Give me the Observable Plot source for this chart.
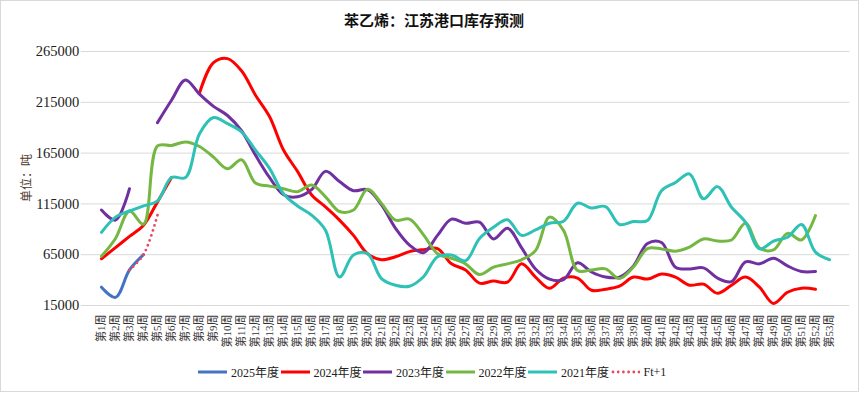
<!DOCTYPE html>
<html>
<head>
<meta charset="utf-8">
<script src="https://cdn.jsdelivr.net/npm/d3@7"></script>
<script src="https://cdn.jsdelivr.net/npm/@observablehq/plot@0.6"></script>
<style>
  html, body { margin: 0; padding: 0; background: #fff; }
  #wrap { position: relative; width: 865px; height: 393px; overflow: hidden; background: #fff; }
  #frame { position: absolute; left: 0; top: 0; width: 859px; height: 392px; border: 1.5px solid #d9d9d9; box-sizing: border-box; pointer-events: none; }
  #title { position: absolute; top: 9px; left: 0; width: 868px; text-align: center; font-family: "Noto Sans CJK SC", sans-serif; font-weight: 700; font-size: 15px; color: #111; line-height: 22px; }
  #ylabel { position: absolute; left: 25px; top: 178px; transform: translate(-50%, -50%) rotate(-90deg); font-family: "Noto Sans CJK SC", sans-serif; font-size: 12px; color: #4d3a2c; white-space: nowrap; }
  #chart { position: absolute; left: 0; top: 0; }
  .leg { position: absolute; top: 364px; height: 16px; display: flex; align-items: center; font-family: "Liberation Serif", "Noto Sans CJK SC", serif; font-size: 12px; color: #222; white-space: nowrap; }
  .leg svg { margin-right: 4px; }
</style>
</head>
<body>
<div id="wrap">
  <div id="chart"></div>
  <div id="title"></div>
  <div id="ylabel"></div>
  <div id="legend"></div>
  <div id="frame"></div>
</div>
<script>
// ---- text ----
const titleText = "苯乙烯：江苏港口库存预测";
const yLabelText = "单位：吨";

// ---- categories ----
const weeks = d3.range(1, 54);
const weekLabels = weeks.map(w => "第" + w + "周");
const yTicks = [15000, 65000, 115000, 165000, 215000, 265000];

// ---- series values (weekly, starting at week 1) ----
const s2025 = [33000, 23000, 50000, 65000];
const s2024 = [61000, 72000, 83000, 94000, 117000, 141000, null, 224000, 254000, 258000,
  246000, 222000, 201000, 168000, 147000, 124000, 112000, 99000, 84000, 66000,
  60000, 63000, 68000, 70000, 71000, 56000, 50000, 37000, 39000, 38000,
  56000, 43000, 32000, 42000, 42000, 30000, 31000, 34000, 43000, 41000,
  46000, 43000, 35000, 36000, 27000, 35000, 43000, 33000, 17000, 28000,
  32000, 31000];
const s2023 = [109000, 99000, 130000, null, 195000, 217000, 237000, 223000, 211000, 202000,
  187000, 163000, 141000, 124000, 122000, 129000, 147000, 137000, 128000, 129000,
  114000, 91000, 74500, 67000, 84000, 100000, 96000, 97000, 80500, 91000,
  72000, 51000, 41000, 40500, 57000, 48000, 43000, 43000, 54000, 76000,
  77000, 52700, 51000, 52000, 42000, 38500, 58000, 56000, 61500, 54000,
  48500, 48500];
const s2022 = [63500, 81000, 108000, 95000, 172000, 172500, 176000, 171500, 161000, 149500,
  158500, 135500, 132500, 130000, 127000, 133500, 122000, 107500, 109000, 129500,
  115500, 99000, 100000, 84500, 66000, 61500, 56000, 45500, 52700, 56000,
  60000, 69000, 102000, 89000, 49500, 50000, 51000, 41500, 53000, 71000,
  70700, 68500, 72500, 80500, 78500, 79500, 96000, 71700, 69700, 86000,
  79500, 103500];
const s2021 = [87000, 102000, 108000, 113000, 118000, 141000, 141000, 184000, 200000, 194000,
  186000, 168000, 150000, 125000, 113000, 104000, 89000, 43000, 64700, 66000,
  41500, 35000, 34000, 43300, 63000, 64700, 59000, 81000, 92000, 99300,
  84000, 89400, 96000, 98000, 115700, 111000, 112400, 94700, 97600, 98600,
  128000, 136000, 144500, 120000, 132000, 111700, 97000, 70700, 78300, 82200,
  94700, 67500, 60000];
const sFt1 = [null, null, 50000, 65000, 104000];

const seriesNames = ["2025年度", "2024年度", "2023年度", "2022年度", "2021年度", "Ft+1"];
const seriesValues = [s2025, s2024, s2023, s2022, s2021, sFt1];
const seriesColors = ["#4472C4", "#FF0000", "#7030A0", "#74B843", "#2EC1B6", "#E8475F"];
const seriesDotted = [false, false, false, false, false, true];

// ---- build ----
document.getElementById("title").textContent = titleText;
document.getElementById("ylabel").textContent = yLabelText;

const toRows = vals => vals.map((v, i) => ({week: weeks[i], value: v}));

const lineMarks = seriesValues.map((vals, i) => Plot.line(toRows(vals), {
  x: "week",
  y: "value",
  stroke: seriesColors[i],
  strokeWidth: seriesDotted[i] ? 2.8 : 3,
  strokeDasharray: seriesDotted[i] ? "0 5.2" : null,
  strokeLinecap: "round",
  strokeLinejoin: "round",
  curve: "catmull-rom"
}));

const chart = Plot.plot({
  width: 865,
  height: 393,
  marginLeft: 80.75,
  marginRight: 15.75,
  marginTop: 51,
  marginBottom: 88,
  style: {fontFamily: '"Liberation Serif", "Noto Sans CJK SC", serif', background: "transparent", color: "#222", overflow: "visible"},
  x: {type: "point", domain: weeks, padding: 0.5, axis: null, label: null},
  y: {domain: [15000, 265000], axis: null, label: null},
  marks: [
    Plot.gridY(yTicks, {stroke: "#d9d9d9", strokeOpacity: 1, strokeWidth: 1}),
    Plot.axisY(yTicks, {tickSize: 0, tickPadding: 2, fontSize: 14.5, tickFormat: d => String(d), fill: "#222", label: null}),
    Plot.axisX(weeks, {tickSize: 0, tickPadding: 9, tickRotate: -90, fontSize: 11, tickFormat: d => weekLabels[d - 1], fill: "#333", label: null}),
    ...lineMarks
  ]
});
document.getElementById("chart").appendChild(chart);

// ---- legend ----
const legend = document.getElementById("legend");
seriesNames.forEach((name, i) => {
  const item = document.createElement("div");
  item.className = "leg";
  item.style.left = (198 + i * 82.5) + "px";
  const dash = seriesDotted[i] ? 'stroke-dasharray="0 5.2" stroke-linecap="round" stroke-width="2.8"' : 'stroke-width="3"';
  item.innerHTML = `<svg width="29" height="8"><line x1="${seriesDotted[i] ? 2 : 0}" x2="${seriesDotted[i] ? 28 : 29}" y1="4" y2="4" stroke="${seriesColors[i]}" ${dash}/></svg><span>${name}</span>`;
  legend.appendChild(item);
});
</script>
</body>
</html>
